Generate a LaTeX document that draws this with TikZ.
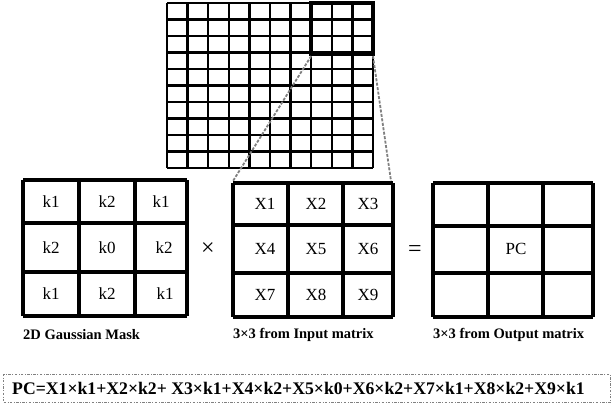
\documentclass[tikz,border=0pt]{standalone}
\usepackage{fontspec}
\setmainfont{Liberation Serif}
\begin{document}
\begin{tikzpicture}[x=1pt,y=-1pt,
  gridline/.style={line width=2.3pt,black},
  matline/.style={line width=3.2pt,black},
  hlbox/.style={line width=4.4pt,black},
  zoomline/.style={gray,line width=1.8pt,dash pattern=on 3pt off 1.5pt},
  cell/.style={font=\fontsize{17}{17}\selectfont,inner sep=0pt},
  caption/.style={font=\fontsize{14.5}{15}\selectfont\bfseries,anchor=west,inner sep=0pt},
  opsym/.style={font=\fontsize{24}{24}\selectfont,inner sep=0pt},
  formulabox/.style={draw=gray,line width=1.1pt,dash pattern=on 2.5pt off 1.5pt on 0.8pt off 1.5pt}]
\useasboundingbox (0,0) rectangle (614,416);
% top grid
\foreach \i in {0,...,10}{
  \draw[gridline] ({167+\i*20.6},3) -- ({167+\i*20.6},168);
  \draw[gridline] (167,{3+\i*16.5}) -- (373,{3+\i*16.5});
}
\draw[hlbox] (311.2,3) rectangle (373,53.5);
\coordinate (hlBL) at (311.2,56);
\coordinate (hlBR) at (373,56);
% Gaussian mask
\foreach \x in {23,79,135,187}{\draw[matline] (\x,180) -- (\x,316);}
\foreach \y in {180,223,272,316}{\draw[matline] (23,\y) -- (187,\y);}
\node[cell] (g11) at (51,202) {k1};
\node[cell] (g12) at (107,202) {k2};
\node[cell] (g13) at (161,202) {k1};
\node[cell] (g21) at (51,248) {k2};
\node[cell] (g22) at (107,248) {k0};
\node[cell] (g23) at (164,248) {k2};
\node[cell] (g31) at (51,294) {k1};
\node[cell] (g32) at (107,294) {k2};
\node[cell] (g33) at (165,294) {k1};
\node[caption] (gcap) at (23,335) {2D Gaussian Mask};
\node[opsym] (times) at (208,249) {×};
% Input matrix
\foreach \x in {233,288,343,393}{\draw[matline] (\x,183) -- (\x,317);}
\foreach \y in {183,225,273,317}{\draw[matline] (233,\y) -- (393,\y);}
\coordinate (inTL) at (233,181);
\coordinate (inTR) at (391,181);
\node[cell] (x1) at (265,204) {X1};
\node[cell] (x2) at (316,204) {X2};
\node[cell] (x3) at (368,204) {X3};
\node[cell] (x4) at (265,249) {X4};
\node[cell] (x5) at (316,249) {X5};
\node[cell] (x6) at (368,249) {X6};
\node[cell] (x7) at (265,295) {X7};
\node[cell] (x8) at (316,295) {X8};
\node[cell] (x9) at (368,295) {X9};
\node[caption] (incap) at (233,335) {3×3 from Input matrix};
\node[opsym] (eq) at (415,251) {=};
% Output matrix
\foreach \x in {433,488,543,593}{\draw[matline] (\x,183) -- (\x,317);}
\foreach \y in {183,226,273,317}{\draw[matline] (433,\y) -- (593,\y);}
\node[cell] (pc) at (516,249) {PC};
\node[caption] (outcap) at (433,335) {3×3 from Output matrix};
% zoom lines
\draw[zoomline] (hlBL) -- (inTL);
\draw[zoomline] (hlBR) -- (inTR);
% formula
\node[formulabox,minimum width=607pt,minimum height=28pt,anchor=north west,inner sep=0pt] (fbox) at (3,374) {};
\node[font=\fontsize{17.7}{18}\selectfont\bfseries,anchor=west,inner sep=0pt] (formula) at (12,388) {PC=X1×k1+X2×k2+ X3×k1+X4×k2+X5×k0+X6×k2+X7×k1+X8×k2+X9×k1};
\end{tikzpicture}
\end{document}
